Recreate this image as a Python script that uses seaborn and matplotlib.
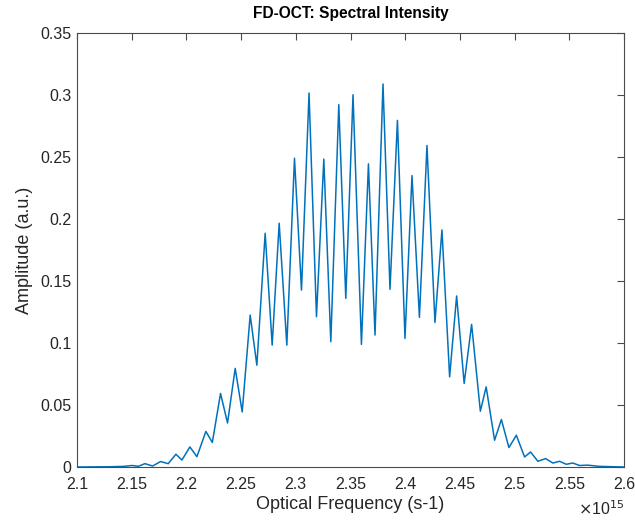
import matplotlib
matplotlib.use("Agg")
import matplotlib.pyplot as plt
import seaborn as sns
import numpy as np

# Optical frequency (units of 1e15 s^-1)
freq = [2.1000, 2.1301, 2.1429, 2.1500, 2.1562, 2.1621, 2.1691, 2.1764, 2.1834,
        2.1904, 2.1959, 2.2032, 2.2096, 2.2178, 2.2237, 2.2312, 2.2376, 2.2446,
        2.2510, 2.2583, 2.2644, 2.2720, 2.2784, 2.2848, 2.2918, 2.2988, 2.3052,
        2.3121, 2.3189, 2.3256, 2.3320, 2.3393, 2.3457, 2.3523, 2.3600, 2.3664,
        2.3724, 2.3797, 2.3861, 2.3929, 2.3998, 2.4062, 2.4130, 2.4199, 2.4272,
        2.4336, 2.4406, 2.4470, 2.4539, 2.4607, 2.4687, 2.4740, 2.4817, 2.4879,
        2.4948, 2.5016, 2.5091, 2.5146, 2.5213, 2.5283, 2.5350, 2.5411, 2.5472,
        2.5532, 2.5594, 2.5667, 2.5776, 2.6000]
# Spectral amplitude (a.u.)
amp = [0.0000, 0.0002, 0.0005, 0.0012, 0.0006, 0.0027, 0.0008, 0.0044, 0.0027,
       0.0103, 0.0056, 0.0162, 0.0083, 0.0287, 0.0198, 0.0593, 0.0355, 0.0795,
       0.0444, 0.1225, 0.0821, 0.1885, 0.0983, 0.1966, 0.0983, 0.2490, 0.1427,
       0.3016, 0.1212, 0.2483, 0.1010, 0.2922, 0.1360, 0.3002, 0.0989, 0.2445,
       0.1064, 0.3089, 0.1433, 0.2795, 0.1037, 0.2350, 0.1207, 0.2593, 0.1166,
       0.1912, 0.0727, 0.1379, 0.0674, 0.1150, 0.0450, 0.0646, 0.0216, 0.0383,
       0.0157, 0.0256, 0.0081, 0.0121, 0.0046, 0.0068, 0.0032, 0.0046, 0.0022,
       0.0032, 0.0012, 0.0015, 0.0005, 0.0000]

xticks = [2.1, 2.15, 2.2, 2.25, 2.3, 2.35, 2.4, 2.45, 2.5, 2.55, 2.6]
xticklabels = ["2.1", "2.15", "2.2", "2.25", "2.3", "2.35", "2.4", "2.45", "2.5", "2.55", "2.6"]
yticks = [0, 0.05, 0.1, 0.15, 0.2, 0.25, 0.3, 0.35]
yticklabels = ["0", "0.05", "0.1", "0.15", "0.2", "0.25", "0.3", "0.35"]

sns.set_style("white")
plt.rcParams['font.family'] = ['Liberation Sans', 'DejaVu Sans']

fig = plt.figure(figsize=(6.35, 5.2), dpi=100)
ax = fig.add_axes([77/635, 1 - 467/520, (624 - 77)/635, (467 - 33)/520])

sns.lineplot(x=freq, y=amp, ax=ax, color="#0072BD", linewidth=1.1,
             estimator=None, sort=False)
for l in ax.lines:
    l.set_solid_joinstyle('round')

ax.set_xlim(2.1, 2.6)
ax.set_ylim(0, 0.35)
ax.set_xticks(xticks)
ax.set_xticklabels(xticklabels)
ax.set_yticks(yticks)
ax.set_yticklabels(yticklabels)

axis_col = "#262626"
for s in ax.spines.values():
    s.set_visible(True)
    s.set_color("#4a4a4a")
    s.set_linewidth(0.8)
ax.tick_params(direction='in', length=5, width=0.8, color="#4a4a4a",
               labelsize=11.5, labelcolor=axis_col, top=True, right=True)
ax.tick_params(axis='x', pad=7)
ax.tick_params(axis='y', pad=4)

ax.set_xlabel("Optical Frequency (s-1)", fontsize=13, color=axis_col, labelpad=3)
ax.set_ylabel("Amplitude (a.u.)", fontsize=13, color=axis_col, labelpad=5)
ax.set_title("FD-OCT: Spectral Intensity", fontsize=11.2, fontweight='bold',
             color="black", pad=11)
ax.text(1.0, -0.095, r"$\times$10$^{15}$", transform=ax.transAxes, ha='right',
        va='center', fontsize=11.5, color=axis_col)

fig.savefig("out.png", dpi=100, facecolor="white")
